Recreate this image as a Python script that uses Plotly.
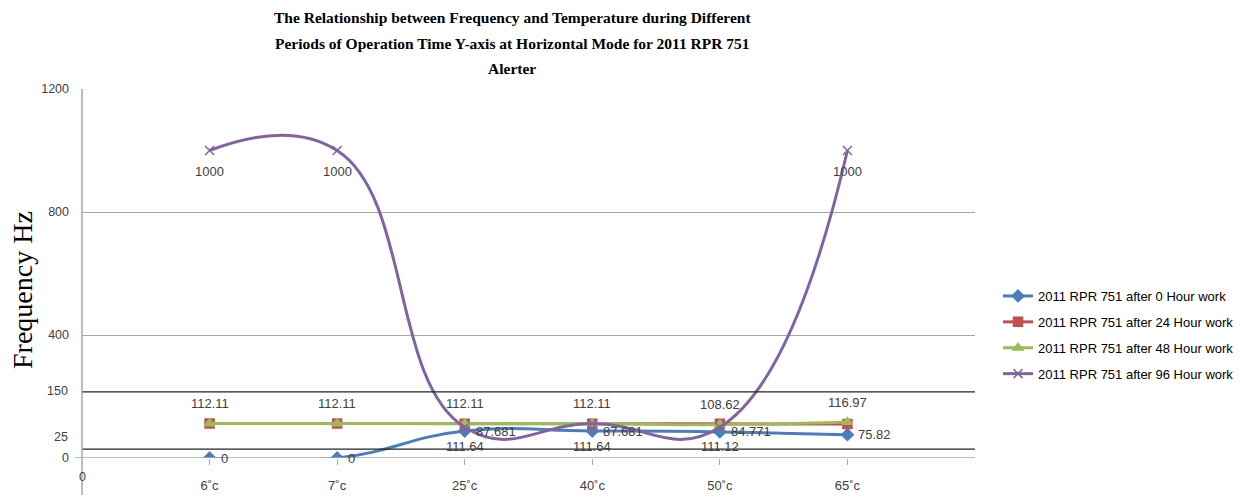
import plotly.graph_objects as go

categories = ["6˚c", "7˚c", "25˚c", "40˚c", "50˚c", "65˚c"]
x_pos = [1, 2, 3, 4, 5, 6]
series_names = [
    "2011 RPR 751 after 0 Hour work",
    "2011 RPR 751 after 24 Hour work",
    "2011 RPR 751 after 48 Hour work",
    "2011 RPR 751 after 96 Hour work",
]
h0 = [0, 0, 87.681, 87.681, 84.771, 75.82]
h24 = [112.11, 112.11, 111.64, 111.64, 111.12, 110.5]
h48 = [112.11, 112.11, 112.11, 112.11, 108.62, 116.97]
h96 = [1000, 1000, 100, 112, 100, 1000]

h0_text = ["0", "0", "87.681", "87.681", "84.771", "75.82"]
h24_text = ["", "", "111.64", "111.64", "111.12", ""]
h48_text = ["112.11", "112.11", "112.11", "112.11", "108.62", "116.97"]
h96_text = ["1000", "1000", "", "", "", "1000"]

y_ticks = [0, 400, 800, 1200]
extra_lines = [29, 215]
extra_labels = [("150", 218), ("25", 68)]

colors = ["#4A7EBB", "#C0504D", "#9BBB59", "#8064A2"]
symbols = ["diamond", "square", "triangle-up", "x-thin"]
label_font = dict(family="Liberation Sans", size=13, color="#404040")

# page offset (body margin 8px) compensation: keep the page from overflowing
OX, OY = 8, 8
FW, FH = 1245 - 2 * OX, 503 - 2 * OY
L, T = 82 - OX, 89 - OY
PW, PH = 893, 369

def px_to_paper_x(px):
    return (px - 82) / PW

def px_to_paper_y(py):
    return (458 - py) / PH

fig = go.Figure()
series = [h0, h24, h48, h96]
texts = [h0_text, h24_text, h48_text, h96_text]
# label placement: (xanchor, xshift, yshift)
label_place = [("left", 9, 0), ("center", 0, -23), ("center", 0, 20), ("center", 0, -21)]

for i, vals in enumerate(series):
    fig.add_trace(go.Scatter(
        x=x_pos, y=vals, name=series_names[i],
        legendgroup="g%d" % i,
        mode="lines+markers",
        line=dict(color=colors[i], width=3, shape="spline", smoothing=1.3),
        marker=dict(symbol=symbols[i], size=9, color=colors[i],
                    line=dict(color=colors[i], width=1.5)),
    ))

annotations = []
for i, vals in enumerate(series):
    xa, xs, ys = label_place[i]
    for xv, yv, t in zip(x_pos, vals, texts[i]):
        if not t:
            continue
        annotations.append(dict(text=t, x=xv, y=yv, xref="x", yref="y",
                                xanchor=xa, yanchor="middle", xshift=xs, yshift=ys,
                                showarrow=False, font=label_font))

shapes = []
for v in extra_lines:
    shapes.append(dict(type="line", xref="paper", yref="y", x0=0, x1=1, y0=v, y1=v,
                       line=dict(color="#222222", width=1.2)))
shapes.append(dict(type="line", xref="paper", yref="paper", x0=0, x1=0,
                   y0=px_to_paper_y(503), y1=1,
                   line=dict(color="#A6A6A6", width=1.5)))
shapes.append(dict(type="line", xref="paper", yref="y", x0=-0.008, x1=1, y0=0, y1=0,
                   line=dict(color="#A6A6A6", width=1.5)))

title_lines = [
    ("The Relationship between Frequency and Temperature during Different", 17),
    ("Periods of Operation Time Y-axis at Horizontal Mode for 2011 RPR 751", 44),
    ("Alerter", 68),
]
for t, ypix in title_lines:
    annotations.append(dict(text="<b>" + t + "</b>", xref="paper", yref="paper",
                            x=px_to_paper_x(512), y=px_to_paper_y(ypix),
                            xanchor="center", yanchor="middle", showarrow=False,
                            font=dict(family="Liberation Serif", size=15.5, color="#000000")))
annotations.append(dict(text="Frequency Hz", xref="paper", yref="paper",
                        x=px_to_paper_x(22), y=px_to_paper_y(290), textangle=-90,
                        xanchor="center", yanchor="middle", showarrow=False,
                        font=dict(family="Liberation Serif", size=28, color="#000000")))
for lab, v in extra_labels:
    annotations.append(dict(text=lab, xref="paper", yref="y", x=px_to_paper_x(70), y=v,
                            xanchor="right", yanchor="middle", showarrow=False,
                            font=dict(family="Liberation Sans", size=12.5, color="#404040")))
annotations.append(dict(text="0", xref="paper", yref="paper", x=0, y=px_to_paper_y(477),
                        xanchor="center", yanchor="middle", showarrow=False,
                        font=dict(family="Liberation Sans", size=12.5, color="#404040")))

fig.update_layout(
    width=FW, height=FH,
    margin=dict(l=L, r=FW - L - PW, t=T, b=FH - T - PH),
    plot_bgcolor="white", paper_bgcolor="white",
    showlegend=True,
    legend=dict(xref="container", yref="container",
                x=(998 - OX) / FW, y=(FH - (335 - OY)) / FH,
                xanchor="left", yanchor="middle",
                font=dict(family="Liberation Sans", size=13, color="#000000"),
                tracegroupgap=6, itemwidth=30, bgcolor="rgba(0,0,0,0)"),
    shapes=shapes,
    annotations=annotations,
    xaxis=dict(range=[0, 7], tickvals=x_pos, ticktext=categories, automargin=False,
               showgrid=False, zeroline=False, showline=False,
               ticks="outside", ticklen=6, tickcolor="#A6A6A6",
               ticklabelstandoff=9,
               tickfont=dict(family="Liberation Sans", size=13, color="#404040")),
    yaxis=dict(range=[0, 1200], tickvals=y_ticks, ticktext=[str(v) for v in y_ticks],
               automargin=False,
               showgrid=True, gridcolor="#A6A6A6", gridwidth=1, zeroline=False,
               showline=False, ticks="", ticklabelstandoff=12,
               tickfont=dict(family="Liberation Sans", size=12.5, color="#404040")),
)

fig.write_html("out.html")
